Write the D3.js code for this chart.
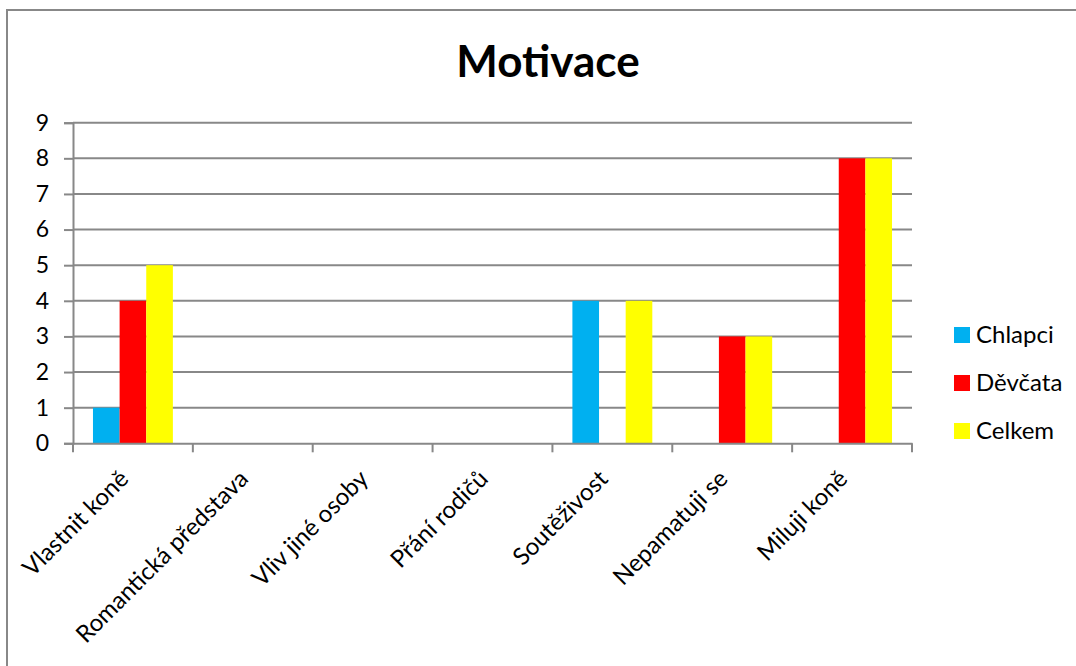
<!DOCTYPE html>
<html><head><meta charset="utf-8">
<script src="https://cdn.jsdelivr.net/npm/d3@7"></script>
<style>body{margin:0;background:#fff}svg{display:block;font-family:Lato,"Open Sans",sans-serif}</style>
</head><body>
<svg id="c" width="1076" height="666"></svg>
<script>
const categories = ["Vlastnit koně","Romantická představa","Vliv jiné osoby","Přání rodičů","Soutěživost","Nepamatuji se","Miluji koně"];
const seriesNames = ["Chlapci","Děvčata","Celkem"];
const chlapci = [1,0,0,0,4,0,0];
const devcata = [4,0,0,0,0,3,8];
const celkem  = [5,0,0,0,4,3,8];
const yTicks = [0,1,2,3,4,5,6,7,8,9];
const colors = ["#00B0F0","#FF0000","#FFFF00"];
const seriesValues = [chlapci, devcata, celkem];

(function(){
const svg = d3.select("#c");
const grid = "#888888";
svg.append("rect").attr("x",7).attr("y",10).attr("width",1200).attr("height",800)
  .attr("fill","none").attr("stroke",grid).attr("stroke-width",2);

const pL=73, pR=912, pT=122.7, pB=443.3;
const x = d3.scaleBand().domain(categories).range([pL,pR]).paddingInner(0).paddingOuter(0);
const xs = d3.scaleBand().domain(seriesNames).range([0,x.bandwidth()]).paddingInner(0).paddingOuter(0.75);
const y = d3.scaleLinear().domain([0,9]).range([pB,pT]);

svg.append("text").attr("x",548).attr("y",77).attr("text-anchor","middle")
  .attr("font-weight","bold").attr("font-size",44).text("Motivace");

const yAxis = d3.axisLeft(y).tickValues(yTicks).tickSize(9).tickPadding(15).tickFormat(d3.format("d"));
const gy = svg.append("g").attr("transform",`translate(${pL},0)`).call(yAxis);
gy.select(".domain").attr("stroke",grid).attr("stroke-width",2);
gy.selectAll(".tick line").attr("stroke",grid).attr("stroke-width",2);
gy.selectAll(".tick text").attr("font-size",23).attr("fill","#000").attr("font-family","Lato");
svg.append("g").selectAll("line").data(yTicks.filter(d=>d>0)).join("line")
  .attr("x1",pL).attr("x2",pR).attr("y1",d=>y(d)).attr("y2",d=>y(d))
  .attr("stroke",grid).attr("stroke-width",2);

seriesValues.forEach((vals,si)=>{
  svg.append("g").selectAll("rect").data(vals.map((v,i)=>({v,c:categories[i]}))).join("rect")
    .attr("x",d=>x(d.c)+xs(seriesNames[si])).attr("width",xs.bandwidth())
    .attr("y",d=>y(d.v)).attr("height",d=>y(0)-y(d.v)).attr("fill",colors[si]);
});

const xAxis = d3.axisBottom(x).tickSize(0).tickFormat("");
const gx = svg.append("g").attr("transform",`translate(0,${pB})`).call(xAxis);
gx.select(".domain").attr("stroke",grid).attr("stroke-width",2);
const bounds = categories.map(c=>x(c)).concat([pR]);
svg.append("g").selectAll("line").data(bounds).join("line")
  .attr("x1",d=>d).attr("x2",d=>d).attr("y1",pB).attr("y2",pB+9)
  .attr("stroke",grid).attr("stroke-width",2);
svg.append("g").selectAll("text").data(categories).join("text")
  .attr("transform",d=>`translate(${x(d)+x.bandwidth()/2-3},${pB+37}) rotate(-45)`)
  .attr("text-anchor","end").attr("font-size",24).text(d=>d);

const lg = svg.append("g");
seriesNames.forEach((n,i)=>{
  lg.append("rect").attr("x",954).attr("y",327+i*48).attr("width",16).attr("height",16).attr("fill",colors[i]);
  lg.append("text").attr("x",976).attr("y",343+i*48).attr("font-size",24).text(n);
});
})();
</script>
</body></html>
